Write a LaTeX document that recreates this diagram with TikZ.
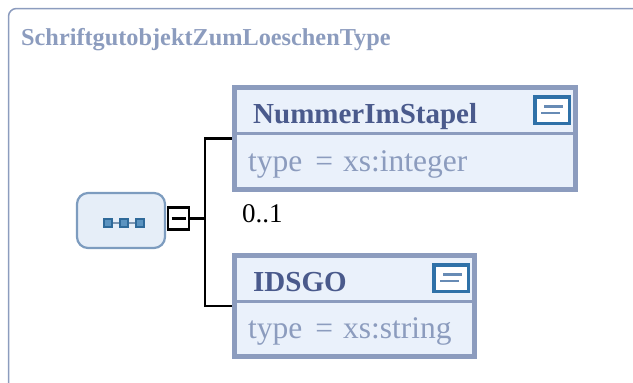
\documentclass[tikz,border=0pt]{standalone}
\usepackage{fontspec}
\setmainfont{Liberation Serif}
\definecolor{frameC}{HTML}{8C9CBE}
\definecolor{fillC}{HTML}{EAF1FB}
\definecolor{nameC}{HTML}{4A5A8C}
\definecolor{iconC}{HTML}{2F71A8}
\definecolor{seqFill}{HTML}{E6EEF8}
\definecolor{seqLine}{HTML}{7D9CBF}
\definecolor{sqC}{HTML}{2F6A9A}
\definecolor{sqIn}{HTML}{5B93C0}
\tikzset{
  elembox/.style={draw=frameC, fill=fillC, line width=5pt, rectangle, inner sep=0pt},
  divider/.style={draw=frameC, line width=3pt},
  elemname/.style={anchor=base west, inner sep=0pt, text=nameC, font=\fontsize{29}{32}\selectfont\bfseries},
  elemtype/.style={anchor=base west, inner sep=0pt, text=frameC, font=\fontsize{31.5}{34}\selectfont},
  iconbox/.style={draw=iconC, fill=white, line width=3.5pt, rectangle, inner sep=0pt, minimum width=34.5pt, minimum height=26.5pt},
  iconline/.style={draw=frameC!60!iconC, line width=2.8pt},
  seqbox/.style={draw=seqLine, fill=seqFill, line width=2.2pt, rounded corners=11pt, minimum width=88pt, minimum height=55pt, inner sep=0pt},
  seqsq/.style={draw=sqC, fill=sqIn, line width=1.8pt, minimum size=8pt, inner sep=0pt},
  minusbox/.style={draw=black, fill=white, line width=2.2pt, minimum width=21pt, minimum height=22pt, inner sep=0pt},
  conn/.style={draw=black, line width=2.3pt},
}
\newcommand{\typetext}[1]{type\hspace{13pt}=\hspace{10pt}#1}
\begin{document}
\begin{tikzpicture}[x=1pt,y=-1pt]
\useasboundingbox (0,0) rectangle (633,383);
\begin{scope}
\clip (0,0) rectangle (633,383);
\draw[frameC, line width=1.5pt, rounded corners=8pt] (8.5,8.5) rectangle (660,410);
\end{scope}
\node[anchor=base west, inner sep=0pt, text=frameC, font=\fontsize{24.3}{28}\selectfont\bfseries] (title) at (21,45) {SchriftgutobjektZumLoeschenType};

% sequence node
\node[seqbox] (seq) at (121,220.5) {};
\node[seqsq] (s1) at (108,223) {};
\node[seqsq] (s2) at (124,223) {};
\node[seqsq] (s3) at (140,223) {};
\draw[seqLine!80!gray, line width=2.5pt] (s1) -- (s2);
\draw[seqLine!80!gray, line width=2.5pt] (s2) -- (s3);

% minus box
\node[minusbox] (minus) at (178.5,218.5) {};
\draw[black, line width=2.4pt] ([xshift=-7pt]minus.center) -- ([xshift=7pt]minus.center);

% boxes
\node[elembox, minimum width=341pt, minimum height=102pt] (b1) at (405,138.5) {};
\draw[divider] (237,133) -- (573,133);
\node[elemname] (n1) at (253,123) {NummerImStapel};
\node[elemtype] (t1) at (248,171) {\typetext{xs:integer}};
\node[iconbox] (i1) at (552,110) {};
\draw[iconline] (544,106.5) -- (563,106.5);
\draw[iconline] (541,113) -- (560,113);

\node[elembox, minimum width=240pt, minimum height=101pt] (b2) at (354.5,306) {};
\draw[divider] (237,301) -- (472,301);
\node[elemname] (n2) at (253,291) {IDSGO};
\node[elemtype] (t2) at (248,338) {\typetext{xs:string}};
\node[iconbox] (i2) at (451,278) {};
\draw[iconline] (443,274.5) -- (462,274.5);
\draw[iconline] (440,281) -- (459,281);

% connectors
\coordinate (j) at (205,218.5);
\coordinate (jt) at (205,138.5);
\coordinate (jb) at (205,306);
\draw[conn] (minus.east) -- (j);
\draw[conn, line cap=rect] (jt) -- (jb);
\draw[conn] (jt) -- (b1.west);
\draw[conn] (jb) -- (b2.west);

\node[anchor=base west, inner sep=0pt, font=\fontsize{27}{30}\selectfont] (card) at (242,222) {0..1};
\end{tikzpicture}
\end{document}
